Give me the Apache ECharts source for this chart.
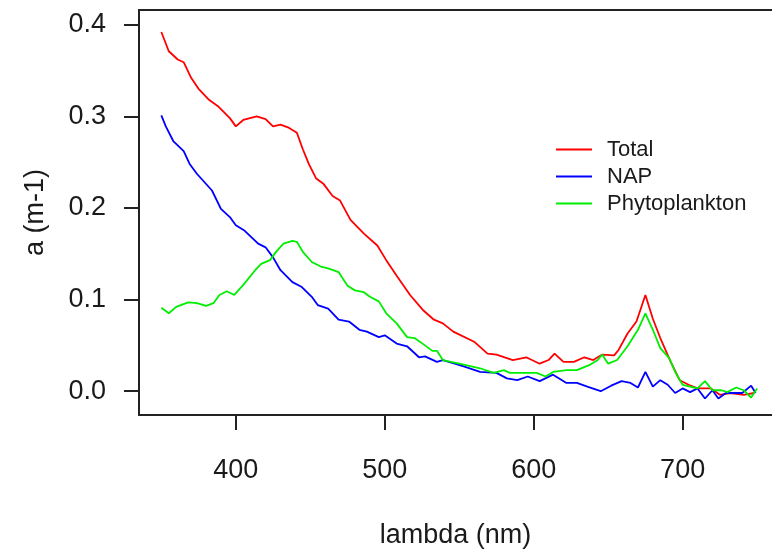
<!DOCTYPE html>
<html>
<head>
<meta charset="utf-8">
<script src="https://cdn.jsdelivr.net/npm/echarts@6/dist/echarts.min.js"></script>
<style>
  html, body { margin: 0; padding: 0; background: #fff; }
  #chart { width: 772px; height: 554px; }
</style>
</head>
<body>
<div id="chart"></div>
<script>
// ---- data (wavelength in nm, absorption in m-1) ----
const seriesNames = ['Total', 'NAP', 'Phytoplankton'];

const totalWl = [350,355,361,365,370,375,382,388,396,400,405,414,420,425,430,435,441,445,449,454,459,465,470,477,486,495,501,508,517,526,533,539,546,560,569,575,586,595,604,610,614,620,627,634,640,646,654,657,663,669,675,680,685,692,698,704,710,719,725,732,741,748];
const totalA  = [0.392,0.371,0.362,0.359,0.342,0.330,0.318,0.311,0.298,0.289,0.296,0.300,0.297,0.289,0.291,0.288,0.282,0.264,0.248,0.232,0.226,0.213,0.208,0.187,0.172,0.159,0.143,0.126,0.105,0.088,0.078,0.074,0.065,0.054,0.041,0.040,0.034,0.037,0.030,0.034,0.041,0.032,0.032,0.037,0.034,0.040,0.039,0.045,0.063,0.076,0.105,0.079,0.058,0.032,0.012,0.007,0.003,0.003,-0.004,-0.002,-0.004,-0.002];

const napWl = [350,353,358,365,369,374,384,390,396,400,406,415,420,425,430,438,444,451,455,462,469,476,483,488,496,500,508,515,523,527,535,539,547,553,564,575,582,589,596,604,613,622,629,636,645,652,659,665,670,675,680,685,690,695,700,705,710,715,720,724,729,740,746,749];
const napA  = [0.301,0.289,0.273,0.262,0.248,0.237,0.219,0.199,0.190,0.181,0.175,0.161,0.157,0.146,0.132,0.119,0.114,0.103,0.094,0.090,0.078,0.076,0.067,0.065,0.059,0.061,0.052,0.049,0.037,0.038,0.032,0.034,0.030,0.027,0.021,0.020,0.014,0.012,0.016,0.011,0.018,0.009,0.009,0.005,0.000,0.006,0.011,0.009,0.004,0.021,0.005,0.012,0.007,-0.002,0.003,-0.001,0.003,-0.008,0.001,-0.008,-0.002,-0.002,0.006,-0.002];

const phytoWl = [350,355,360,368,374,380,385,389,394,399,405,413,417,423,427,432,438,441,445,451,457,462,469,475,480,486,490,496,501,508,515,520,527,532,535,539,553,564,573,580,584,589,602,608,613,622,629,638,643,646,650,656,663,670,675,680,685,691,695,700,705,710,715,720,726,730,736,741,746,750];
const phytoA  = [0.091,0.085,0.092,0.097,0.096,0.093,0.096,0.105,0.109,0.105,0.116,0.132,0.139,0.143,0.152,0.161,0.164,0.163,0.152,0.141,0.136,0.134,0.130,0.115,0.110,0.108,0.103,0.098,0.085,0.074,0.059,0.058,0.050,0.044,0.044,0.034,0.029,0.025,0.020,0.023,0.020,0.020,0.020,0.016,0.021,0.023,0.023,0.029,0.034,0.040,0.030,0.034,0.049,0.067,0.085,0.067,0.047,0.036,0.021,0.007,0.005,0.003,0.011,0.001,0.001,-0.001,0.004,0.001,-0.007,0.003];

const xTicks = [400, 500, 600, 700];
const yTicks = [0.0, 0.1, 0.2, 0.3, 0.4];

const xTitle = 'lambda (nm)';
const yTitle = 'a (m-1)';

// ---- chart ----
const zip = (xs, ys) => xs.map((x, i) => [x, ys[i]]);
const FONT = "'Liberation Sans', Arial, sans-serif";
const TXT = '#1a1a1a';
const AX = '#222';

const chart = echarts.init(document.getElementById('chart'), null, { renderer: 'canvas' });

const lineSeries = (name, data, color) => ({
  name, type: 'line', data, symbol: 'none', smooth: false,
  xAxisIndex: 0, yAxisIndex: 0,
  lineStyle: { color, width: 1.8 }, itemStyle: { color },
  emphasis: { disabled: true }, animation: false
});

chart.setOption({
  animation: false,
  backgroundColor: '#ffffff',
  grid: { left: 139, top: 10, right: 0, bottom: 137, show: false },
  legend: {
    orient: 'vertical', left: 551, top: 131,
    icon: 'rect', itemWidth: 36, itemHeight: 2, itemGap: 0,
    textStyle: { fontFamily: FONT, fontSize: 22, color: TXT, lineHeight: 27, padding: [0, 0, 0, 10] },
    data: seriesNames
  },
  xAxis: [{
    type: 'value', min: 335, max: 760, position: 'bottom',
    axisLine: { show: true, onZero: false, lineStyle: { color: AX, width: 2 } },
    axisTick: { show: true, inside: false, length: 15, customValues: xTicks, lineStyle: { color: AX, width: 2 } },
    axisLabel: { customValues: xTicks, margin: 42, fontFamily: FONT, fontSize: 27, color: TXT },
    splitLine: { show: false },
    name: xTitle, nameLocation: 'middle', nameGap: 107,
    nameTextStyle: { fontFamily: FONT, fontSize: 27, color: TXT }
  }, {
    type: 'value', min: 335, max: 760, position: 'top',
    axisLine: { show: true, onZero: false, lineStyle: { color: AX, width: 2 } },
    axisTick: { show: false }, axisLabel: { show: false }, splitLine: { show: false }
  }],
  yAxis: {
    type: 'value', min: -0.026, max: 0.416,
    axisLine: { show: true, onZero: false, lineStyle: { color: AX, width: 2 } },
    axisTick: { show: true, inside: false, length: 15, customValues: yTicks, lineStyle: { color: AX, width: 2 } },
    axisLabel: { customValues: yTicks, margin: 33, fontFamily: FONT, fontSize: 27, color: TXT,
      formatter: v => Number(v).toFixed(1) },
    splitLine: { show: false },
    name: yTitle, nameLocation: 'middle', nameGap: 90, nameRotate: 90,
    nameTextStyle: { fontFamily: FONT, fontSize: 27, color: TXT }
  },
  series: [
    lineSeries('Total', zip(totalWl, totalA), '#ff0000'),
    lineSeries('NAP', zip(napWl, napA), '#0000ff'),
    lineSeries('Phytoplankton', zip(phytoWl, phytoA), '#00ee00')
  ]
});
</script>
</body>
</html>
